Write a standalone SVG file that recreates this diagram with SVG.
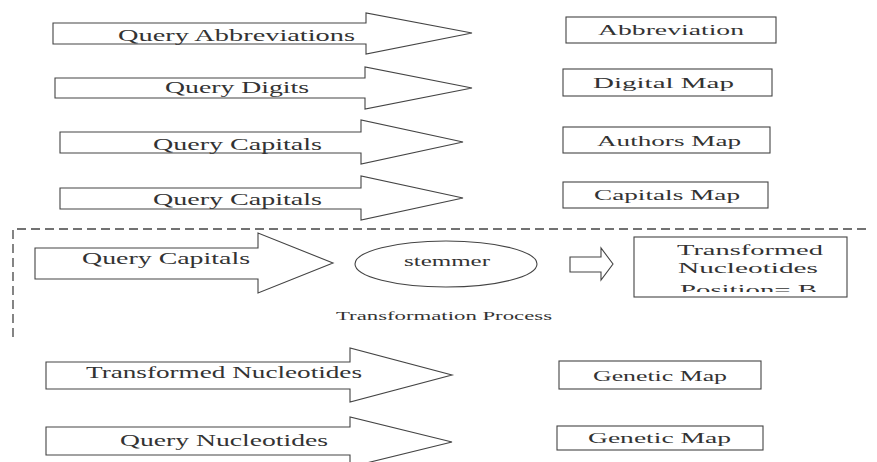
<svg xmlns="http://www.w3.org/2000/svg" width="877" height="462" viewBox="0 0 877 462">
<style>
.sh{fill:#fff;stroke:#444;stroke-width:1.1}
.dash{fill:none;stroke:#444;stroke-width:1.3;stroke-dasharray:9,5}
text{font-family:"Liberation Serif","DejaVu Serif","Times New Roman",serif;fill:#333}
.t{font-size:16px}
.tb{font-size:15px}
.ts{font-size:13px}
</style>
<defs>
<clipPath id="clipBox"><rect x="634" y="237" width="213" height="55"/></clipPath>
</defs>
<rect width="877" height="462" fill="#fff"/>

<g id="arrow1"><polygon class="sh" points="53,23 366,23 366,13 472,33 366,54 366,44 53,44"/><text class="t" x="118" y="41" textLength="237" lengthAdjust="spacingAndGlyphs">Query Abbreviations</text></g>
<g id="arrow2"><polygon class="sh" points="55,78 365,78 365,67 472,88 365,109 365,98 55,98"/><text class="t" x="165" y="93" textLength="144" lengthAdjust="spacingAndGlyphs">Query Digits</text></g>
<g id="arrow3"><polygon class="sh" points="60,132 361,132 361,120 463,142 361,164 361,153 60,153"/><text class="t" x="153" y="150" textLength="169" lengthAdjust="spacingAndGlyphs">Query Capitals</text></g>
<g id="arrow4"><polygon class="sh" points="60,188 361,188 361,176 463,198 361,220 361,209 60,209"/><text class="t" x="153" y="205" textLength="169" lengthAdjust="spacingAndGlyphs">Query Capitals</text></g>
<g id="arrow5"><polygon class="sh" points="35,248 258,248 258,233 333,263 258,293 258,279 35,279"/><text class="t" x="82" y="264" textLength="168" lengthAdjust="spacingAndGlyphs">Query Capitals</text></g>
<g id="arrow6"><polygon class="sh" points="46,362 350,362 350,348 452,375 350,402 350,389 46,389"/><text class="t" x="86" y="378" textLength="276" lengthAdjust="spacingAndGlyphs">Transformed Nucleotides</text></g>
<g id="arrow7"><polygon class="sh" points="46,427 350,427 350,417 452,442 350,467 350,455 46,455"/><text class="t" x="120" y="446" textLength="208" lengthAdjust="spacingAndGlyphs">Query Nucleotides</text></g>

<g id="box-abbreviation"><rect class="sh" x="566" y="17" width="210" height="26"/><text class="tb" x="598" y="35" textLength="146" lengthAdjust="spacingAndGlyphs">Abbreviation</text></g>
<g id="box-digital"><rect class="sh" x="563" y="69" width="209" height="27"/><text class="tb" x="593" y="88" textLength="141" lengthAdjust="spacingAndGlyphs">Digital Map</text></g>
<g id="box-authors"><rect class="sh" x="563" y="127" width="207" height="26"/><text class="tb" x="597" y="146" textLength="144" lengthAdjust="spacingAndGlyphs">Authors Map</text></g>
<g id="box-capitals"><rect class="sh" x="563" y="182" width="205" height="26"/><text class="tb" x="594" y="200" textLength="146" lengthAdjust="spacingAndGlyphs">Capitals Map</text></g>
<g id="box-genetic1"><rect class="sh" x="559" y="361" width="202" height="28"/><text class="tb" x="593" y="381" textLength="134" lengthAdjust="spacingAndGlyphs">Genetic Map</text></g>
<g id="box-genetic2"><rect class="sh" x="557" y="426" width="206" height="24"/><text class="tb" x="588" y="443" textLength="143" lengthAdjust="spacingAndGlyphs">Genetic Map</text></g>

<g id="region-transformation">
<polyline class="dash" points="866,229 13,229 13,340"/>
<text class="ts" x="336" y="320" textLength="216" lengthAdjust="spacingAndGlyphs">Transformation Process</text>
</g>

<g id="stemmer"><ellipse class="sh" cx="446" cy="264" rx="91" ry="23"/><text class="tb" x="404" y="266" textLength="86" lengthAdjust="spacingAndGlyphs">stemmer</text></g>

<g id="box-transformed"><rect class="sh" x="634" y="237" width="213" height="60"/>
<g clip-path="url(#clipBox)">
<text class="tb" x="677" y="255" textLength="146" lengthAdjust="spacingAndGlyphs">Transformed</text>
<text class="tb" x="678" y="273" textLength="140" lengthAdjust="spacingAndGlyphs">Nucleotides</text>
<text class="tb" x="680" y="295" textLength="137" lengthAdjust="spacingAndGlyphs">Position= B</text>
</g></g>

<g id="connectors"><polygon class="sh" points="570,257 601,257 601,248 613,264 601,280 601,272 570,272"/></g>
</svg>
